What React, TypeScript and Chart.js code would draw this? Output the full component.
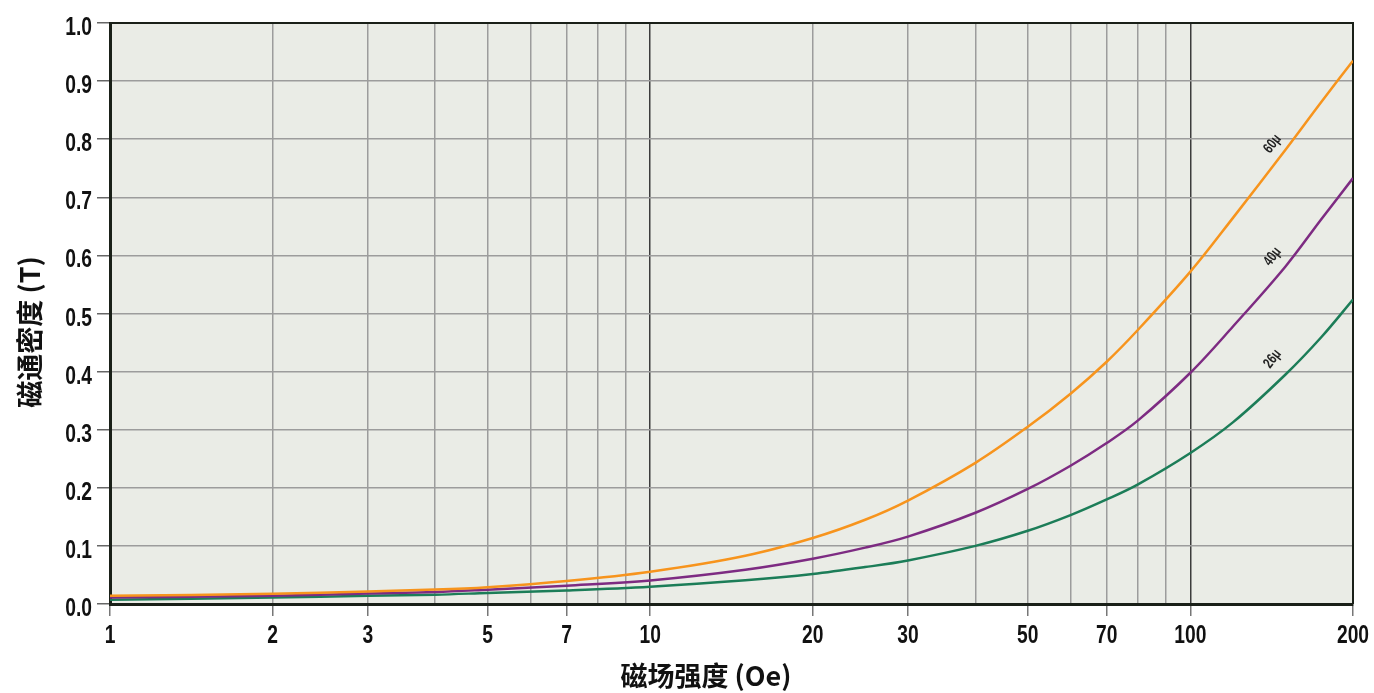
import React, { useEffect, useRef } from "react";
import { Chart, registerables } from "chart.js";

Chart.register(...registerables);

const X_VALUES = [1, 2, 3, 4, 5, 7, 10, 15, 20, 25, 30, 40, 50, 60, 70, 80, 100, 120, 150, 175, 200];
const SERIES_60 = [0.014, 0.0177, 0.0217, 0.0248, 0.029, 0.0396, 0.0556, 0.083, 0.1136, 0.145, 0.178, 0.243, 0.305, 0.362, 0.417, 0.472, 0.572, 0.665, 0.782, 0.865, 0.935];
const SERIES_40 = [0.011, 0.0143, 0.018, 0.0205, 0.0246, 0.0315, 0.0406, 0.059, 0.078, 0.097, 0.116, 0.157, 0.198, 0.238, 0.277, 0.316, 0.398, 0.478, 0.581, 0.663, 0.733];
const SERIES_26 = [0.0075, 0.011, 0.014, 0.016, 0.019, 0.0234, 0.0298, 0.0409, 0.0516, 0.0635, 0.075, 0.1, 0.126, 0.153, 0.18, 0.206, 0.26, 0.313, 0.395, 0.46, 0.524];

const SERIES_NAMES = ["60μ", "40μ", "26μ"];
const SERIES_COLORS = ["#F7941D", "#7D2B82", "#1C7D58"];
const LABEL_X = [142, 142, 142];
const LABEL_Y = [0.792, 0.598, 0.422];

const X_GRID = [1, 2, 3, 4, 5, 6, 7, 8, 9, 10, 20, 30, 40, 50, 60, 70, 80, 90, 100, 200];
const X_LABELED = [1, 2, 3, 5, 7, 10, 20, 30, 50, 70, 100, 200];
const X_MAJOR = [10, 100];
const Y_TICKS = [0, 0.1, 0.2, 0.3, 0.4, 0.5, 0.6, 0.7, 0.8, 0.9, 1.0];

const Y_TITLE = "磁通密度 (T)";
const X_TITLE = "磁场强度 (Oe)";

const LABEL_FONT = "bold 26px 'Liberation Sans', Arial, sans-serif";
const SMALL_FONT = "bold 15px 'Liberation Sans', Arial, sans-serif";
const TITLE_FONT = "bold 27px 'Noto Sans CJK SC', sans-serif";
const SQUEEZE = 0.74;

function squeezedText(ctx: any, text: string, x: number, y: number, align: string, rot = 0) {
  ctx.save();
  ctx.translate(x, y);
  if (rot) ctx.rotate(rot);
  ctx.scale(SQUEEZE, 1);
  ctx.textAlign = align;
  ctx.fillText(text, 0, 0);
  ctx.restore();
}

const framePlugin = {
  id: "frame",
  beforeDraw(chart: any) {
    const { ctx, chartArea } = chart;
    ctx.save();
    ctx.fillStyle = "#EAECE6";
    ctx.fillRect(chartArea.left, chartArea.top, chartArea.right - chartArea.left, chartArea.bottom - chartArea.top);
    ctx.restore();
  },
  beforeDatasetsDraw(chart: any) {
    const { ctx, chartArea } = chart;
    ctx.save();
    ctx.strokeStyle = "#1a2018";
    ctx.lineWidth = 2;
    ctx.beginPath();
    ctx.moveTo(chartArea.left, chartArea.top);
    ctx.lineTo(chartArea.right, chartArea.top);
    ctx.lineTo(chartArea.right, chartArea.bottom);
    ctx.stroke();
    ctx.restore();
  },
  afterDatasetsDraw(chart: any) {
    const { ctx, scales } = chart;
    ctx.save();
    ctx.fillStyle = "#222";
    ctx.font = SMALL_FONT;
    ctx.textBaseline = "middle";
    SERIES_NAMES.forEach((name, i) => {
      const x = scales.x.getPixelForValue(LABEL_X[i]);
      const y = scales.y.getPixelForValue(LABEL_Y[i]);
      squeezedText(ctx, name, x, y, "center", (-52 * Math.PI) / 180);
    });
    ctx.restore();
  },
  afterDraw(chart: any) {
    const { ctx, scales, chartArea } = chart;
    ctx.save();
    ctx.fillStyle = "#111";
    ctx.font = LABEL_FONT;
    ctx.textBaseline = "alphabetic";
    X_LABELED.forEach((v) => {
      squeezedText(ctx, String(v), scales.x.getPixelForValue(v), chartArea.bottom + 39, "center");
    });
    Y_TICKS.forEach((v) => {
      squeezedText(ctx, v.toFixed(1), chartArea.left - 18, scales.y.getPixelForValue(v) + 12, "right");
    });
    ctx.font = TITLE_FONT;
    ctx.textAlign = "center";
    ctx.textBaseline = "middle";
    ctx.fillText(X_TITLE, 706, 676);
    ctx.translate(30, 332);
    ctx.rotate(-Math.PI / 2);
    ctx.fillText(Y_TITLE, 0, 0);
    ctx.restore();
  },
};

export default function App() {
  const ref = useRef<HTMLCanvasElement>(null);
  useEffect(() => {
    if (!ref.current) return;
    const series = [SERIES_60, SERIES_40, SERIES_26];
    const chart = new Chart(ref.current, {
      type: "line",
      data: {
        datasets: series.map((s, i) => ({
          label: SERIES_NAMES[i],
          data: X_VALUES.map((x, j) => ({ x, y: s[j] })),
          borderColor: SERIES_COLORS[i],
          borderWidth: 2.5,
          pointRadius: 0,
          fill: false,
          tension: 0.35,
        })),
      },
      options: {
        animation: false,
        responsive: false,
        maintainAspectRatio: false,
        layout: { padding: { top: 23, right: 21, left: 0, bottom: 0 } },
        plugins: { legend: { display: false }, tooltip: { enabled: false } },
        scales: {
          x: {
            type: "logarithmic",
            min: 1,
            max: 200,
            afterBuildTicks: (scale: any) => {
              scale.ticks = X_GRID.map((v) => ({ value: v }));
            },
            afterFit: (scale: any) => {
              scale.height = 89;
            },
            ticks: {
              autoSkip: false,
              maxRotation: 0,
              display: false,
            },
            grid: {
              color: (c: any) => (c.tick && X_MAJOR.includes(c.tick.value) ? "#3c3c3c" : "#9c9c9c"),
              lineWidth: 1.5,
              tickLength: 12,
              tickColor: (c: any) => (c.tick && X_LABELED.includes(c.tick.value) ? "#777" : "rgba(0,0,0,0)"),
              tickWidth: 1.5,
            },
            border: { display: true, color: "#1a2018", width: 3 },
            title: { display: false },
          },
          y: {
            type: "linear",
            min: 0,
            max: 1,
            afterFit: (scale: any) => {
              scale.width = 110;
            },
            ticks: {
              stepSize: 0.1,
              display: false,
            },
            grid: {
              color: "#9c9c9c",
              lineWidth: 1.5,
              tickLength: 13,
              tickColor: "#666",
              tickWidth: 1.5,
            },
            border: { display: true, color: "#1a2018", width: 3 },
            title: { display: false },
          },
        },
      },
      plugins: [framePlugin],
    });
    return () => chart.destroy();
  }, []);
  return (
    <div style={{ position: "fixed", left: 0, top: 0, width: 1374, height: 693, background: "#fff" }}>
      <canvas ref={ref} width={1374} height={693} style={{ width: 1374, height: 693 }} />
    </div>
  );
}
